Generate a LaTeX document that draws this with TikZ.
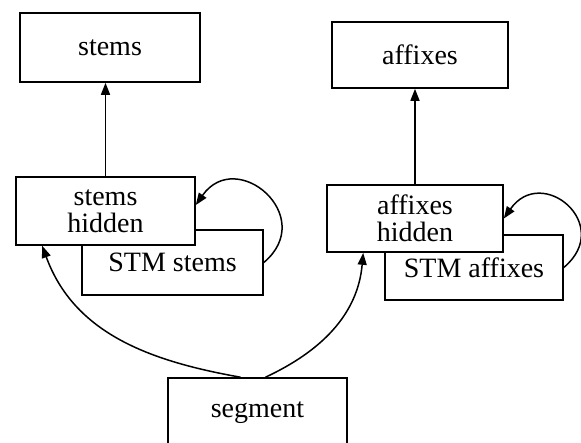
\documentclass[tikz,border=0pt]{standalone}
\usepackage{fontspec}
\setmainfont{Liberation Serif}
\usetikzlibrary{arrows.meta}

\begin{document}
\begin{tikzpicture}[x=1pt, y=-1pt,
    unit/.style={draw, fill=white, line width=1.6pt, inner sep=0pt, align=center,
        font=\fontsize{28}{27}\selectfont},
    link/.style={line width=1.5pt, -{Triangle[length=12pt, width=9pt]}}]

    \useasboundingbox (0,0) rectangle (581,443);

    % Stems column, the STM box sits behind the hidden box
    \node[unit, minimum width=181pt, minimum height=65pt] (stmstems) at (172.5,262.5) {STM stems};
    \node[unit, minimum width=179pt, minimum height=68pt] (stemshid) at (105.5,211) {stems\\hidden};
    \node[unit, minimum width=180pt, minimum height=69pt] (stems) at (110,47.5) {stems};

    % Affixes column
    \node[unit, minimum width=178pt, minimum height=65pt] (stmaffix) at (474,267.5) {STM affixes};
    \node[unit, minimum width=176pt, minimum height=67pt] (affixhid) at (415,218.5) {affixes\\hidden};
    \node[unit, minimum width=176pt, minimum height=66pt] (affixes) at (420,55) {affixes};

    % Input
    \node[unit, minimum width=179pt, minimum height=70pt] (segment) at (257.5,413) {segment};

    % Outputs
    \draw[link] (stemshid.north) -- (stemshid.north |- stems.south);
    \draw[link] (affixhid.north) -- (affixhid.north |- affixes.south);

    % Recurrent loops through the STM boxes
    \draw[link] (stmstems.east) to[out=40, in=55, looseness=2.05] ([yshift=6pt]stemshid.east);
    \draw[link] (stmaffix.east) to[out=40, in=55, looseness=2.2] ([yshift=0pt]affixhid.east);

    % Segment feeds both hidden layers
    \draw[link] ([xshift=-17pt]segment.north) to[out=170, in=-70] ([xshift=27pt]stemshid.south west);
    \draw[link] ([xshift=8pt]segment.north) to[out=25, in=-95] ([xshift=37pt]affixhid.south west);

\end{tikzpicture}
\end{document}
